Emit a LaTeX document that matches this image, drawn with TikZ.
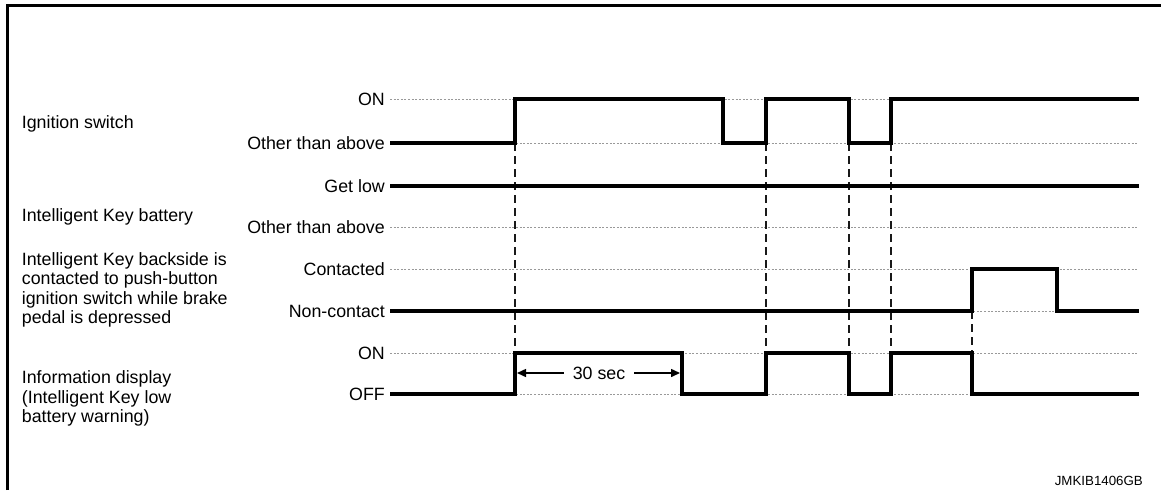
\documentclass[tikz,border=0pt]{standalone}
\usepackage{fontspec}
\setmainfont{Liberation Sans}
\usetikzlibrary{arrows.meta}
\begin{document}
\begin{tikzpicture}[x=1pt,y=-1pt,
  lbl/.style={font=\fontsize{17.8}{19.3}\selectfont, inner sep=0pt},
  lvl/.style={lbl, anchor=base east},
  sig/.style={line width=3.2pt, line join=miter},
  ref/.style={draw=gray!80, line width=0.9pt, dash pattern=on 2pt off 1.6pt},
  guide/.style={draw=black!90, line width=1.5pt, dash pattern=on 8pt off 5pt},
  dimarrow/.style={line width=1.5pt, -{Triangle[length=9pt,width=8pt]}},
  frameline/.style={line width=3pt}]
\useasboundingbox (0,0) rectangle (1161,490);
% frame
\draw[frameline] (7,490) -- (7,5) -- (1161,5);

% left labels
\node[lbl, anchor=base west] (ign) at (21.7,128.3) {Ignition switch};
\node[lbl, anchor=base west] (bat) at (21.7,221.7) {Intelligent Key battery};
\node[lbl, anchor=north west, align=left] (back) at (21.7,252.3)
  {Intelligent Key backside is\\contacted to push-button\\ignition switch while brake\\pedal is depressed};
\node[lbl, anchor=north west, align=left] (info) at (21.7,370.6)
  {Information display\\(Intelligent Key low\\battery warning)};

% level labels
\node[lvl] (ion)  at (385,105) {ON};
\node[lvl] (ioth) at (385,149) {Other than above};
\node[lvl] (glow) at (385,192) {Get low};
\node[lvl] (both) at (385,233) {Other than above};
\node[lvl] (cont) at (385,275) {Contacted};
\node[lvl] (ncon) at (385,317) {Non-contact};
\node[lvl] (don)  at (385,359) {ON};
\node[lvl] (doff) at (385,400) {OFF};

% reference lines
\foreach \yy in {99,143,186,227,269,311,353,394}
  \draw[ref] (390,\yy) -- (1138,\yy);

% guides
\foreach \xx in {515,766,849,891}
  \draw[guide] (\xx,143) -- (\xx,353);
\draw[guide] (972,311) -- (972,353);

% signals
\draw[sig] (390,143) -- (515,143) -- (515,99) -- (723,99) -- (723,143) -- (766,143)
  -- (766,99) -- (849,99) -- (849,143) -- (891,143) -- (891,99) -- (1139,99);
\draw[sig] (390,186) -- (1139,186);
\draw[sig] (390,311) -- (972,311) -- (972,269) -- (1057,269) -- (1057,311) -- (1139,311);
\draw[sig] (390,394) -- (515,394) -- (515,353) -- (682,353) -- (682,394) -- (766,394)
  -- (766,353) -- (849,353) -- (849,394) -- (891,394) -- (891,353) -- (972,353)
  -- (972,394) -- (1139,394);

% 30 sec
\node[lbl, inner xsep=9pt] (t30) at (599,373) {30 sec};
\coordinate (a30L) at (517,373);
\coordinate (a30R) at (680,373);
\draw[dimarrow] (t30.west) -- (a30L);
\draw[dimarrow] (t30.east) -- (a30R);

% figure code
\node[font=\fontsize{13.3}{15}\selectfont, inner sep=0pt, anchor=base east] (code) at (1143,485) {JMKIB1406GB};
\end{tikzpicture}
\end{document}
